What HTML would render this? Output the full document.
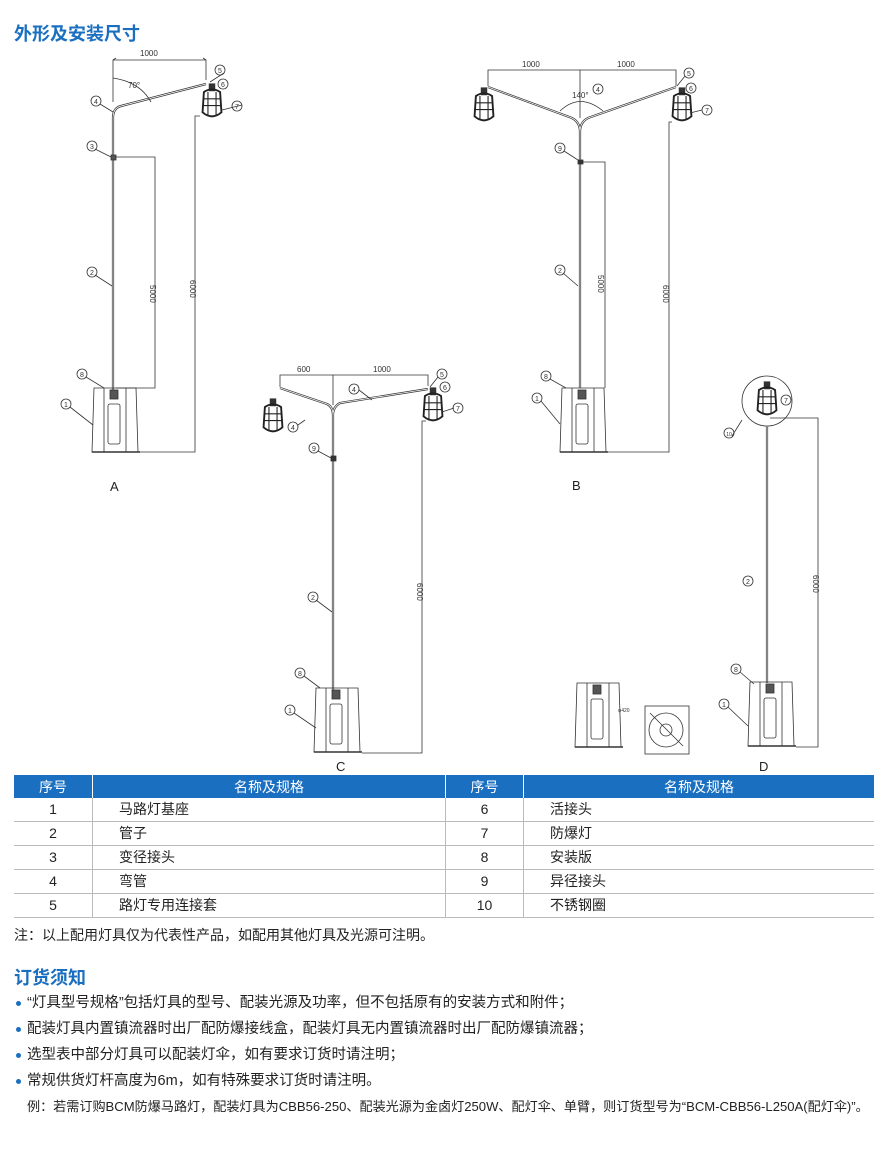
<!DOCTYPE html>
<html><head><meta charset="utf-8"><style>
body{margin:0;width:888px;height:1171px;background:#fff;font-family:"Liberation Sans","Noto Sans CJK SC",sans-serif;position:relative;overflow:hidden;color:#222}
.t{position:absolute;white-space:nowrap}
h1,h2{margin:0;position:absolute;color:#1a6fc0;font-size:18px;font-weight:bold}
table{position:absolute;left:14px;top:775px;width:860px;border-collapse:collapse;font-size:14px}
th{background:#1a6fc0;color:#fff;font-weight:normal;height:23px;padding:0;border-right:1px solid #fff}
td{height:23px;padding:0;line-height:23px;border-bottom:1px solid #bbb;border-right:1px solid #bbb}
td:last-child,th:last-child{border-right:none}
.c{text-align:center}.l{padding-left:26px}
.b{position:absolute;left:16px;font-size:14.5px}
.b::before{content:"";display:inline-block;width:5px;height:5px;border-radius:50%;background:#1a6fc0;margin-right:6px;vertical-align:middle}
</style></head><body>
<h1 style="left:14px;top:20px">外形及安装尺寸</h1>
<svg width="888" height="775" style="position:absolute;left:0;top:0" font-family="Liberation Sans" font-size="8" fill="none" stroke="#333" stroke-width="0.8">
<defs>
<g id="lamp"><g transform="scale(1.35)"><rect x="-2" y="-3" width="4" height="5" fill="#333"/><path d="M-6 3 Q0 -1 6 3 L7 18 Q0 24 -7 18 Z" stroke="#222" stroke-width="1.4"/><path d="M-7 8 H7 M-7 13 H7 M-3 3 V21 M3 3 V21" stroke="#222"/></g></g>
<g id="base"><path d="M2 0 H44 L46 64 H0 Z"/><path d="M0 64 H48" stroke-width="1.5"/><path d="M12 0 V64 M34 0 V64"/><rect x="16" y="16" width="12" height="40" rx="2"/><rect x="18" y="2" width="8" height="9" fill="#555"/></g>
</defs>
<path d="M113 390 V118 Q113 108 121 106 L206 84" stroke-width="2.2"/><path d="M113 390 V118 Q113 108 121 106 L206 84" stroke="#fff" stroke-width="0.8"/>
<rect x="111" y="155" width="5" height="5" fill="#555"/>
<use href="#lamp" x="212" y="88"/>
<use href="#base" x="92" y="388"/>
<path d="M113 102 V60 H206 V80 M113 60 L116 58 M206 60 L203 58"/>
<path d="M113 78 Q140 82 151 102"/>
<text x="140" y="56" fill="#333" stroke="none">1000</text><text x="128" y="88" fill="#333" stroke="none">70°</text>
<path d="M116 157 H155 V388 H116 M200 116 H195 V452 H140"/>
<text x="160" y="275" fill="#333" stroke="none" transform="rotate(90 150 275)">5000</text>
<text x="190" y="280" fill="#333" stroke="none" transform="rotate(90 190 280)">6000</text>
<path d="M580 388 V132 Q580 122 572 118 L488 87 M580 132 Q580 122 588 118 L676 87" stroke-width="2.2"/><path d="M580 388 V132 Q580 122 572 118 L488 87 M580 132 Q580 122 588 118 L676 87" stroke="#fff" stroke-width="0.8"/>
<rect x="578" y="160" width="5" height="4" fill="#333"/>
<use href="#lamp" x="484" y="92"/><use href="#lamp" x="682" y="92"/>
<use href="#base" x="560" y="388"/>
<path d="M488 86 V70 H676 V86 M580 70 V118 M560 111 Q580 92 603 111"/>
<text x="522" y="67" fill="#333" stroke="none">1000</text><text x="617" y="67" fill="#333" stroke="none">1000</text><text x="572" y="98" fill="#333" stroke="none">140°</text>
<path d="M583 162 H605 V388 M672 122 H669 V452 H608"/>
<text x="598" y="275" fill="#333" stroke="none" transform="rotate(90 598 275)">5000</text>
<text x="663" y="285" fill="#333" stroke="none" transform="rotate(90 663 285)">6000</text>
<text x="572" y="490" fill="#222" stroke="none" font-size="13">B</text>
<path d="M333 690 V415 Q333 407 327 404 L280 388 M333 415 Q333 407 340 403 L428 389" stroke-width="2.2"/><path d="M333 690 V415 Q333 407 327 404 L280 388 M333 415 Q333 407 340 403 L428 389" stroke="#fff" stroke-width="0.8"/>
<rect x="331" y="456" width="5" height="5" fill="#333"/>
<use href="#lamp" x="273" y="403"/><use href="#lamp" x="433" y="392"/>
<use href="#base" x="314" y="688"/>
<path d="M280 387 V375 H428 V386 M333 375 V405"/>
<text x="297" y="372" fill="#333" stroke="none">600</text><text x="373" y="372" fill="#333" stroke="none">1000</text>
<path d="M426 421 H422 V753 H362"/>
<text x="417" y="583" fill="#333" stroke="none" transform="rotate(90 417 583)">6000</text>
<text x="336" y="771" fill="#222" stroke="none" font-size="13">C</text>
<circle cx="767" cy="401" r="25"/>
<path d="M767 683 V426" stroke-width="2.2"/><path d="M767 683 V426" stroke="#fff" stroke-width="0.8"/>
<use href="#lamp" x="767" y="386"/>
<use href="#base" x="748" y="682"/>
<path d="M770 418 H818 V747 H796"/>
<text x="813" y="575" fill="#333" stroke="none" transform="rotate(90 813 575)">6000</text>
<text x="759" y="771" fill="#222" stroke="none" font-size="13">D</text>
<use href="#base" x="575" y="683"/>
<rect x="645" y="706" width="44" height="48"/><circle cx="666" cy="730" r="17"/><circle cx="666" cy="730" r="6"/><path d="M650 713 L683 746"/>
<text x="618" y="712" fill="#333" stroke="none" font-size="5">φ420</text>
<text x="110" y="491" fill="#222" stroke="none" font-size="13">A</text>
<g fill="#fff">
<circle cx="96" cy="101" r="5"/><circle cx="92" cy="146" r="5"/><circle cx="92" cy="272" r="5"/><circle cx="82" cy="374" r="5"/><circle cx="66" cy="404" r="5"/><circle cx="220" cy="70" r="5"/><circle cx="223" cy="84" r="5"/><circle cx="237" cy="106" r="5"/>
<circle cx="560" cy="148" r="5"/><circle cx="560" cy="270" r="5"/><circle cx="546" cy="376" r="5"/><circle cx="537" cy="398" r="5"/><circle cx="598" cy="89" r="5"/><circle cx="689" cy="73" r="5"/><circle cx="691" cy="88" r="5"/><circle cx="707" cy="110" r="5"/>
<circle cx="314" cy="448" r="5"/><circle cx="313" cy="597" r="5"/><circle cx="300" cy="673" r="5"/><circle cx="290" cy="710" r="5"/><circle cx="354" cy="389" r="5"/><circle cx="293" cy="427" r="5"/><circle cx="442" cy="374" r="5"/><circle cx="445" cy="387" r="5"/><circle cx="458" cy="408" r="5"/>
<circle cx="729" cy="433" r="5"/><circle cx="786" cy="400" r="5"/><circle cx="748" cy="581" r="5"/><circle cx="736" cy="669" r="5"/><circle cx="724" cy="704" r="5"/>
</g>
<path d="M100 104 L113 112 M95 149 L111 157 M95 275 L112 286 M86 377 L104 388 M70 407 L93 425 M224 73 L210 82 M242 105 L222 110 M564 151 L578 160 M563 273 L578 286 M550 379 L566 388 M541 401 L560 424 M685 76 L677 86 M702 110 L690 113 M318 451 L331 458 M316 600 L332 612 M304 676 L320 688 M294 713 L316 728 M359 390 L372 400 M298 425 L305 420 M438 377 L430 387 M454 408 L442 412 M732 436 L742 420 M740 672 L754 684 M728 707 L748 726"/>
<g fill="#333" stroke="none" font-size="7" text-anchor="middle">
<text x="96" y="104">4</text><text x="92" y="149">3</text><text x="92" y="275">2</text><text x="82" y="377">8</text><text x="66" y="407">1</text><text x="220" y="73">5</text><text x="223" y="87">6</text><text x="237" y="109">7</text>
<text x="560" y="151">9</text><text x="560" y="273">2</text><text x="546" y="379">8</text><text x="537" y="401">1</text><text x="598" y="92">4</text><text x="689" y="76">5</text><text x="691" y="91">6</text><text x="707" y="113">7</text>
<text x="314" y="451">9</text><text x="313" y="600">2</text><text x="300" y="676">8</text><text x="290" y="713">1</text><text x="354" y="392">4</text><text x="293" y="430">4</text><text x="442" y="377">5</text><text x="445" y="390">6</text><text x="458" y="411">7</text>
<text x="729" y="436" font-size="5">10</text><text x="786" y="403">7</text><text x="748" y="584">2</text><text x="736" y="672">8</text><text x="724" y="707">1</text>
</g>
</svg>
<table>
<tr><th style="width:78px">序号</th><th style="width:352px">名称及规格</th><th style="width:77px">序号</th><th>名称及规格</th></tr>
<tr><td class="c">1</td><td class="l">马路灯基座</td><td class="c">6</td><td class="l">活接头</td></tr>
<tr><td class="c">2</td><td class="l">管子</td><td class="c">7</td><td class="l">防爆灯</td></tr>
<tr><td class="c">3</td><td class="l">变径接头</td><td class="c">8</td><td class="l">安装版</td></tr>
<tr><td class="c">4</td><td class="l">弯管</td><td class="c">9</td><td class="l">异径接头</td></tr>
<tr><td class="c">5</td><td class="l">路灯专用连接套</td><td class="c">10</td><td class="l">不锈钢圈</td></tr>
</table>
<div class="t" style="left:14px;top:925px;font-size:14px">注：以上配用灯具仅为代表性产品，如配用其他灯具及光源可注明。</div>
<h2 style="left:14px;top:964px">订货须知</h2>
<div class="b t" style="top:991px">“灯具型号规格”包括灯具的型号、配装光源及功率，但不包括原有的安装方式和附件；</div>
<div class="b t" style="top:1017px">配装灯具内置镇流器时出厂配防爆接线盒，配装灯具无内置镇流器时出厂配防爆镇流器；</div>
<div class="b t" style="top:1043px">选型表中部分灯具可以配装灯伞，如有要求订货时请注明；</div>
<div class="b t" style="top:1069px">常规供货灯杆高度为6m，如有特殊要求订货时请注明。</div>
<div class="t" style="left:27px;top:1096px;font-size:13.1px">例：若需订购BCM防爆马路灯，配装灯具为CBB56-250、配装光源为金卤灯250W、配灯伞、单臂，则订货型号为“BCM-CBB56-L250A(配灯伞)”。</div>
</body></html>
